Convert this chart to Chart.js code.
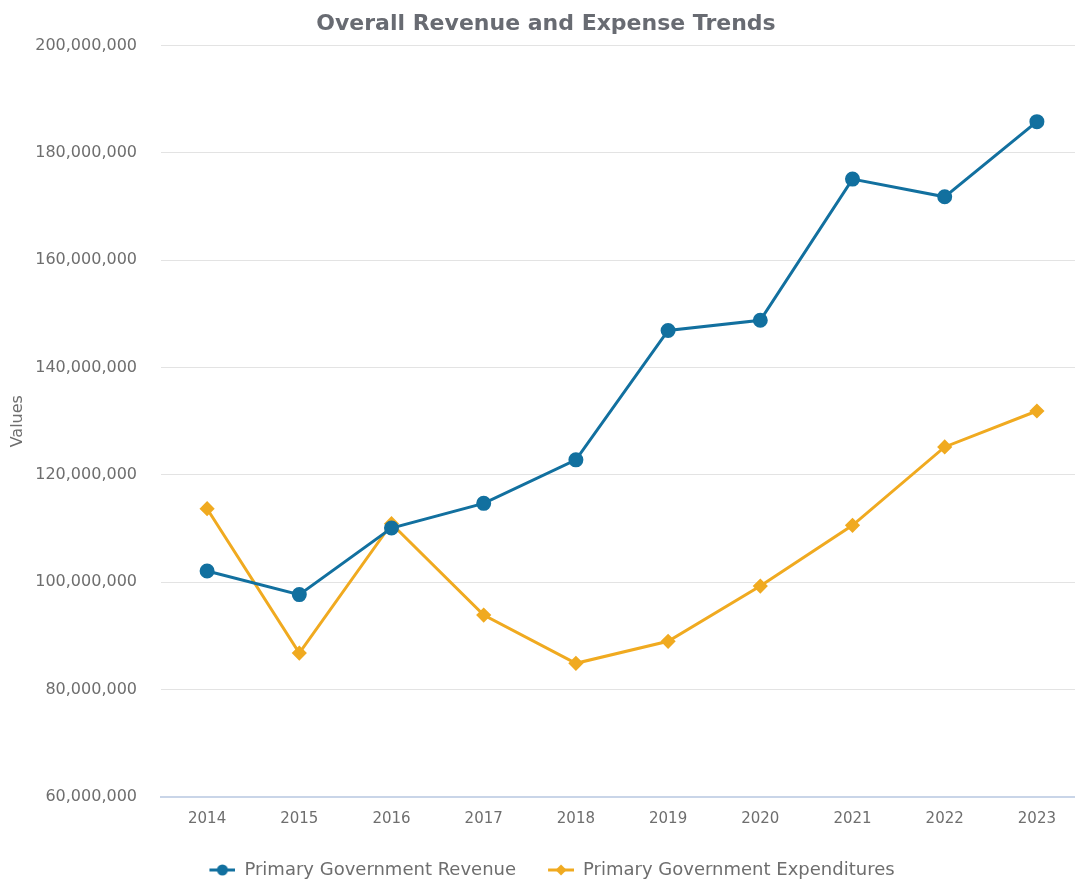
<!DOCTYPE html>
<html>
<head>
<meta charset="utf-8">
<script src="https://cdn.jsdelivr.net/npm/chart.js@4"></script>
<style>
  html, body { margin: 0; padding: 0; background: #fff; overflow: hidden; }
  #outer { width: 1075px; height: 880px; overflow: hidden; position: relative; }
  #wrap { position: absolute; left: 0; top: 0; width: 1092px; height: 880px; }
</style>
</head>
<body>
<div id="outer"><div id="wrap"><canvas id="trend"></canvas></div></div>
<script>
const years = ["2014", "2015", "2016", "2017", "2018", "2019", "2020", "2021", "2022", "2023"];
const revenue = [102100000, 97700000, 110100000, 114700000, 122800000, 146900000, 148800000, 175100000, 171800000, 185800000];
const expenditures = [113700000, 86800000, 110900000, 93900000, 84900000, 89000000, 99300000, 110600000, 125200000, 131900000];
const revenueColor = "#12709f";
const expenseColor = "#f0aa20";
const textColor = "#6e6e6e";
const fontFamily = "'DejaVu Sans', sans-serif";

// legend swatch: short line with the marker on it (left 12px kept blank as item gap)
function legendIcon(color, shape) {
  const c = document.createElement("canvas");
  c.width = 38; c.height = 14;
  const ctx = c.getContext("2d");
  ctx.strokeStyle = color; ctx.fillStyle = color; ctx.lineWidth = 3;
  ctx.beginPath(); ctx.moveTo(12, 7); ctx.lineTo(38, 7); ctx.stroke();
  ctx.beginPath();
  if (shape === "circle") ctx.arc(25, 7, 5.5, 0, Math.PI * 2);
  else { ctx.moveTo(25, 1.5); ctx.lineTo(30.5, 7); ctx.lineTo(25, 12.5); ctx.lineTo(19.5, 7); ctx.closePath(); }
  ctx.fill();
  return c;
}

new Chart(document.getElementById("trend"), {
  type: "line",
  data: {
    labels: years,
    datasets: [{
      label: "Primary Government Revenue",
      data: revenue,
      borderColor: revenueColor,
      backgroundColor: revenueColor,
      borderWidth: 3,
      pointStyle: "circle",
      pointRadius: 6,
      tension: 0
    }, {
      label: "Primary Government Expenditures",
      data: expenditures,
      borderColor: expenseColor,
      backgroundColor: expenseColor,
      borderWidth: 3,
      pointStyle: "rectRot",
      pointRadius: 5.5,
      tension: 0
    }]
  },
  options: {
    responsive: true,
    maintainAspectRatio: false,
    animation: false,
    layout: { padding: { top: 9, left: 0, right: 0, bottom: -9 } },
    plugins: {
      title: {
        display: true,
        text: "Overall Revenue and Expense Trends",
        color: "#686b72",
        font: { family: fontFamily, size: 22, weight: "bold" },
        padding: { top: 2, bottom: 8 }
      },
      legend: {
        position: "bottom",
        labels: {
          color: textColor,
          font: { family: fontFamily, size: 18 },
          usePointStyle: true,
          pointStyleWidth: 38,
          padding: 20,
          generateLabels(chart) {
            return chart.data.datasets.map((ds, i) => ({
              text: ds.label,
              fontColor: textColor,
              pointStyle: legendIcon(ds.borderColor, i === 0 ? "circle" : "diamond"),
              datasetIndex: i,
              hidden: !chart.isDatasetVisible(i),
              lineWidth: 0
            }));
          }
        }
      }
    },
    scales: {
      x: {
        offset: true,
        grid: { display: false, drawTicks: false },
        border: { color: "#c9d5e8", width: 2 },
        afterFit: (scale) => { scale.paddingLeft = 0; scale.paddingRight = 0; },
        ticks: { color: textColor, font: { family: fontFamily, size: 15 }, padding: 13 }
      },
      y: {
        min: 60000000,
        max: 200000000,
        grid: { color: "#e3e3e3", drawTicks: false },
        border: { display: false },
        afterFit: (scale) => { scale.width = 161; },
        ticks: {
          stepSize: 20000000,
          color: textColor,
          font: { family: fontFamily, size: 16 },
          padding: 24,
          callback: (v) => v.toLocaleString("en-US")
        },
        title: {
          display: true,
          text: "Values",
          color: textColor,
          font: { family: fontFamily, size: 16 },
          padding: { top: 8, bottom: 4 }
        }
      }
    }
  }
});
</script>
</body>
</html>
